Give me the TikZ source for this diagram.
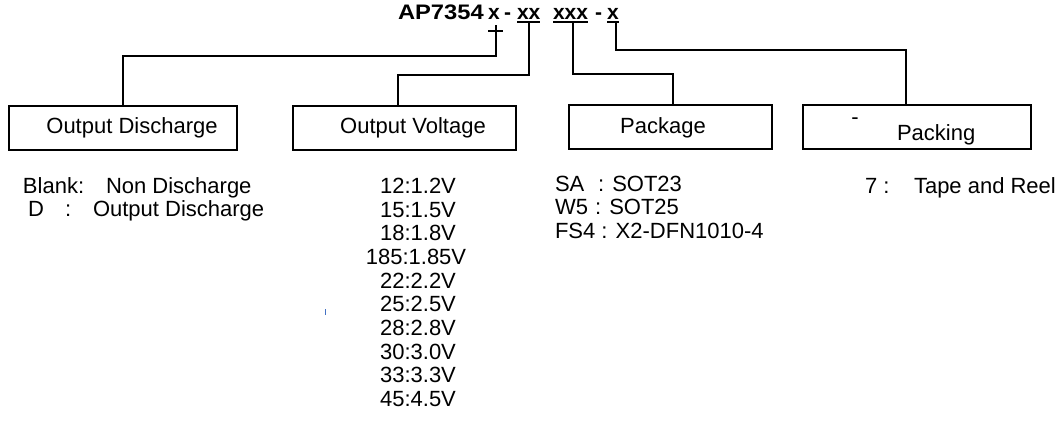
\documentclass[tikz,border=0pt]{standalone}
\usepackage{fontspec}
\setmainfont{Liberation Sans}
\begin{document}
\begin{tikzpicture}[x=1pt,y=-1pt,
  box/.style={draw,line width=1.2pt,minimum height=44pt,inner sep=0pt,outer sep=0pt},
  lbl/.style={inner sep=0pt,outer sep=0pt,font=\fontsize{22}{26}\selectfont},
  ttl/.style={inner sep=0pt,outer sep=0pt,anchor=base west,font=\fontsize{21}{26}\selectfont\bfseries},
  txt/.style={inner sep=0pt,outer sep=0pt,anchor=base west,font=\fontsize{22}{26}\selectfont},
  ctxt/.style={inner sep=0pt,outer sep=0pt,anchor=base,font=\fontsize{22}{26}\selectfont},
  wire/.style={line width=1.2pt}]
\useasboundingbox (0,0) rectangle (1057,439);
% title
\node[ttl] (ap) at (398,19) {\scalebox{1.13}[1]{AP7354}};
\node[ttl] (x1) at (488,19) {x};
\node[ttl] (d1) at (504,19) {-};
\node[ttl] (xx) at (517,19) {xx};
\node[ttl] (xxx) at (553,19) {xxx};
\node[ttl] (d2) at (595,19) {-};
\node[ttl] (x4) at (607,19) {x};
\draw[wire] ([yshift=-3pt]xx.base west) -- ([yshift=-3pt]xx.base east);
\draw[wire] ([yshift=-3pt]xxx.base west) -- ([yshift=-3pt]xxx.base east);
\draw[wire] ([yshift=-3pt]x4.base west) -- ([yshift=-3pt]x4.base east);
\coordinate (u1) at (496,25);
\coordinate (u2) at (529,22);
\coordinate (u3) at (573,22);
\coordinate (u4) at (616,22);
\coordinate (h1a) at (488,31);
\coordinate (h1b) at (503,31);
\draw[wire] (h1a) -- (h1b);
% boxes
\node[box,minimum width=228pt] (b1) at (123,128) {};
\node[box,minimum width=223pt] (b2) at (404.5,128) {};
\node[box,minimum width=203pt] (b3) at (670.5,127) {};
\node[box,minimum width=228pt] (b4) at (917,127) {};
\node[lbl] (t1) at (132,128) {Output Discharge};
\node[lbl] (t2) at (413,128) {Output Voltage};
\node[lbl] (t3) at (663,128) {Package};
\node[txt] (t4) at (897,140) {Packing};
\node[lbl] (t4d) at (855,121) {-};
% connectors
\coordinate (c1) at (496,56);
\coordinate (c2) at (529,75);
\coordinate (c3) at (573,74);
\coordinate (c4) at (616,50);
\draw[wire] (b1.north) |- (c1) -- (u1);
\draw[wire] ([xshift=-6.5pt]b2.north) |- (c2) -- (u2);
\draw[wire] ([xshift=2.5pt]b3.north) |- (c3) -- (u3);
\draw[wire] ([xshift=-11pt]b4.north) |- (c4) -- (u4);
% output discharge list
\node[txt] (bl) at (23,193) {Blank:};
\node[txt] (bln) at (106,193) {Non Discharge};
\node[txt] (dd) at (28,216) {D};
\node[txt] (ddc) at (65,216) {:};
\node[txt] (ddt) at (93,216) {Output Discharge};
% voltage list
\node[ctxt] (v1) at (418,193.5) {12:1.2V};
\node[ctxt] (v2) at (418,217.5) {15:1.5V};
\node[ctxt] (v3) at (418,240.5) {18:1.8V};
\node[ctxt] (v4) at (416,264.5) {185:1.85V};
\node[ctxt] (v5) at (418,288.5) {22:2.2V};
\node[ctxt] (v6) at (418,311.5) {25:2.5V};
\node[ctxt] (v7) at (418,335.5) {28:2.8V};
\node[ctxt] (v8) at (418,359.5) {30:3.0V};
\node[ctxt] (v9) at (418,382.5) {33:3.3V};
\node[ctxt] (v10) at (418,406.5) {45:4.5V};
% package list
\node[txt] (p1) at (555,191) {SA};
\node[txt] (p1b) at (598,191) {: SOT23};
\node[txt] (p2) at (555,214) {W5};
\node[txt] (p2b) at (595,214) {: SOT25};
\node[txt] (p3) at (555,238) {FS4 : X2-DFN1010-4};
% packing list
\node[txt] (k1) at (865,193) {7 :};
\node[txt] (k1b) at (914,193) {Tape and Reel};
% stray mark
\fill[fill={rgb,255:red,68;green,114;blue,196}] (324.5,309) rectangle (326,315);
\end{tikzpicture}
\end{document}
